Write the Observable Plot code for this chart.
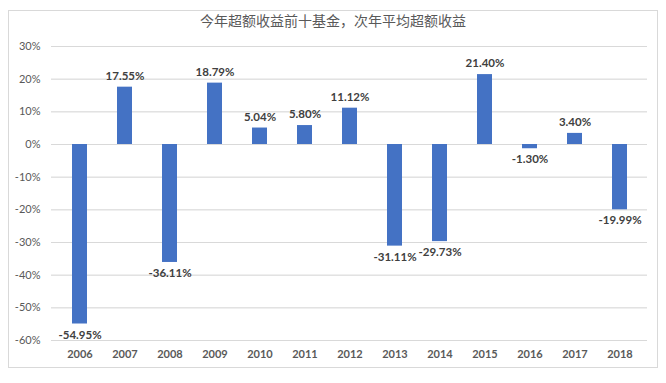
<!DOCTYPE html>
<html>
<head>
<meta charset="utf-8">
<script src="https://cdn.jsdelivr.net/npm/d3@7"></script>
<script src="https://cdn.jsdelivr.net/npm/@observablehq/plot@0.6"></script>
<style>
  html, body { margin: 0; padding: 0; background: #fff; }
  body { width: 666px; height: 383px; position: relative; overflow: hidden; }
  #frame {
    position: absolute; left: 8px; top: 10px; width: 648px; height: 356px;
    border: 1px solid #d9d9d9; background: #fff;
  }
  #title {
    height: 27px; line-height: 18px; padding-top: 0px; text-align: center;
    font-family: "Noto Sans CJK SC", sans-serif; font-size: 14px; color: #595959;
  }
  #chart svg { display: block; }
</style>
</head>
<body>
<div id="frame">
  <div id="title">今年超额收益前十基金，次年平均超额收益</div>
  <div id="chart"></div>
</div>
<script>
const years = ["2006","2007","2008","2009","2010","2011","2012","2013","2014","2015","2016","2017","2018"];
const values = [-54.95, 17.55, -36.11, 18.79, 5.04, 5.80, 11.12, -31.11, -29.73, 21.40, -1.30, 3.40, -19.99];
const yTicks = [30, 20, 10, 0, -10, -20, -30, -40, -50, -60];

const data = years.map((y, i) => ({year: y, value: values[i]}));
const pos = data.filter(d => d.value >= 0);
const neg = data.filter(d => d.value < 0);

const font = "Lato, 'Open Sans', sans-serif";

const chart = Plot.plot({
  width: 648,
  height: 329,
  marginLeft: 42,
  marginRight: 10,
  marginTop: 8,
  marginBottom: 27,
  style: { fontFamily: font, fontSize: "11px", color: "#595959", background: "transparent" },
  x: { domain: years, paddingInner: 0.67, paddingOuter: 0.33, label: null, tickSize: 0, tickPadding: 10 },
  y: { domain: [-60, 30], ticks: yTicks, label: null, tickSize: 0, tickPadding: 11,
       tickFormat: d => d + "%", grid: true },
  marks: [
    Plot.gridY(yTicks, { stroke: "#d9d9d9", strokeOpacity: 1 }),
    Plot.barY(data, { x: "year", y: "value", fill: "#4472C4" }),
    Plot.text(pos, { x: "year", y: "value", text: d => d.value.toFixed(2) + "%", dy: -11,
      fill: "#404040", fontWeight: "bold", fontSize: 11.5 }),
    Plot.text(neg, { x: "year", y: "value", text: d => d.value.toFixed(2) + "%", dy: 11,
      fill: "#404040", fontWeight: "bold", fontSize: 11.5 }),
    Plot.axisX({ tickSize: 0, tickPadding: 10, fill: "#595959", fontWeight: "bold", fontSize: 11 }),
    Plot.axisY({ ticks: yTicks, tickSize: 0, tickPadding: 11, tickFormat: d => d + "%", fill: "#595959", fontSize: 11 })
  ]
});
document.getElementById("chart").appendChild(chart);
</script>
</body>
</html>
